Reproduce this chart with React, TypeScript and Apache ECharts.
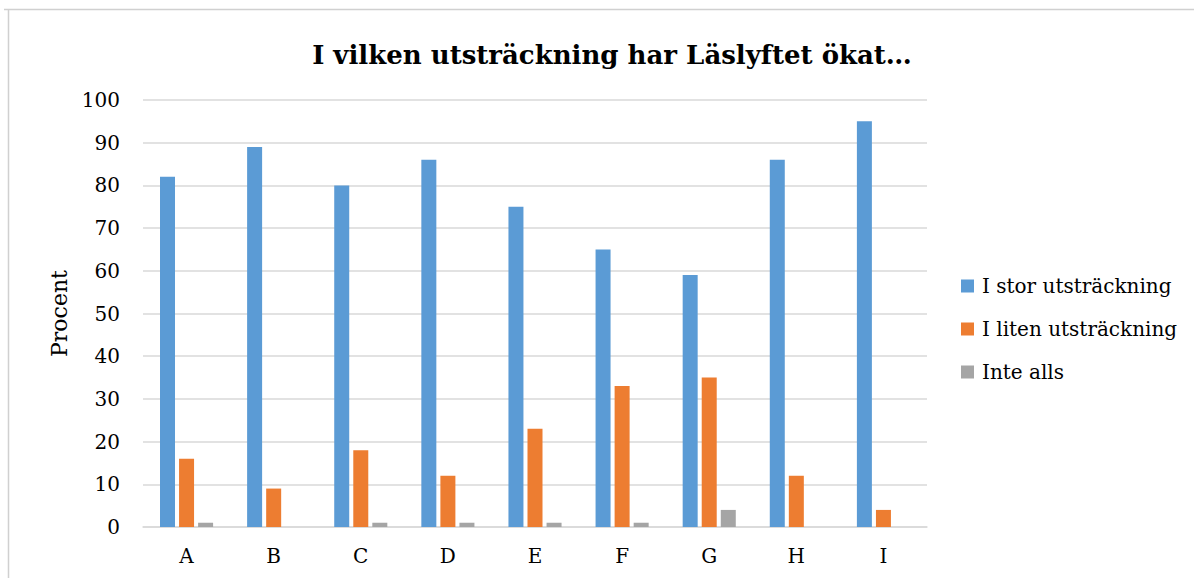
import React, { useEffect, useRef } from "react";
import * as echarts from "echarts";

const categories = ["A", "B", "C", "D", "E", "F", "G", "H", "I"];
const storValues = [82, 89, 80, 86, 75, 65, 59, 86, 95];
const litenValues = [16, 9, 18, 12, 23, 33, 35, 12, 4];
const inteValues = [1, 0, 1, 1, 1, 1, 4, 0, 0];
const seriesNames = ["I stor utsträckning", "I liten utsträckning", "Inte alls"];
const titleText = "I vilken utsträckning har Läslyftet ökat…";
const yAxisName = "Procent";

const FONT = "'DejaVu Serif', 'Liberation Serif', serif";

export default function App() {
  const ref = useRef<HTMLDivElement>(null);
  useEffect(() => {
    document.body.style.margin = "0";
    const chart = echarts.init(ref.current!, undefined, { renderer: "svg" });
    const mk = (name: string, data: number[], color: string) => ({
      name,
      type: "bar",
      data,
      barWidth: 15,
      barGap: "27%",
      itemStyle: { color },
    });
    chart.setOption({
      animation: false,
      backgroundColor: "#ffffff",
      textStyle: { fontFamily: FONT },
      title: {
        text: titleText,
        left: 607,
        textAlign: "center",
        top: 37,
        textStyle: { fontFamily: FONT, fontWeight: "bold", fontSize: 26, color: "#000" },
      },
      legend: {
        orient: "vertical",
        left: 956,
        top: 271,
        itemWidth: 13,
        itemHeight: 13,
        itemGap: 23,
        icon: "rect",
        textStyle: { fontFamily: FONT, fontSize: 20, color: "#000", padding: [0, 0, 0, 3] },
        data: seriesNames,
      },
      grid: { left: 143, top: 100, width: 784, height: 427, containLabel: false },
      xAxis: {
        type: "category",
        data: categories,
        axisLine: { lineStyle: { color: "#d9d9d9", width: 1.5 } },
        axisTick: { show: false },
        axisLabel: { fontFamily: FONT, fontSize: 20, color: "#000", margin: 19 },
      },
      yAxis: {
        type: "value",
        min: 0,
        max: 100,
        interval: 10,
        name: yAxisName,
        nameLocation: "middle",
        nameGap: 70,
        nameRotate: 90,
        nameTextStyle: { fontFamily: FONT, fontSize: 22, color: "#000" },
        axisLine: { show: false },
        axisTick: { show: false },
        splitLine: { lineStyle: { color: "#d9d9d9", width: 1.5 } },
        axisLabel: { fontFamily: FONT, fontSize: 20, color: "#000", margin: 23 },
      },
      series: [
        mk(seriesNames[0], storValues, "#5B9BD5"),
        mk(seriesNames[1], litenValues, "#ED7D31"),
        mk(seriesNames[2], inteValues, "#A5A5A5"),
      ],
      graphic: [
        { type: "line", shape: { x1: 4, y1: 9.5, x2: 1194, y2: 9.5 }, style: { stroke: "#d0d0d0", lineWidth: 1.5 } },
        { type: "line", shape: { x1: 8.5, y1: 9.5, x2: 8.5, y2: 578 }, style: { stroke: "#d0d0d0", lineWidth: 1.5 } },
      ],
    });
    return () => chart.dispose();
  }, []);
  return <div ref={ref} style={{ width: 1194, height: 578 }} />;
}
